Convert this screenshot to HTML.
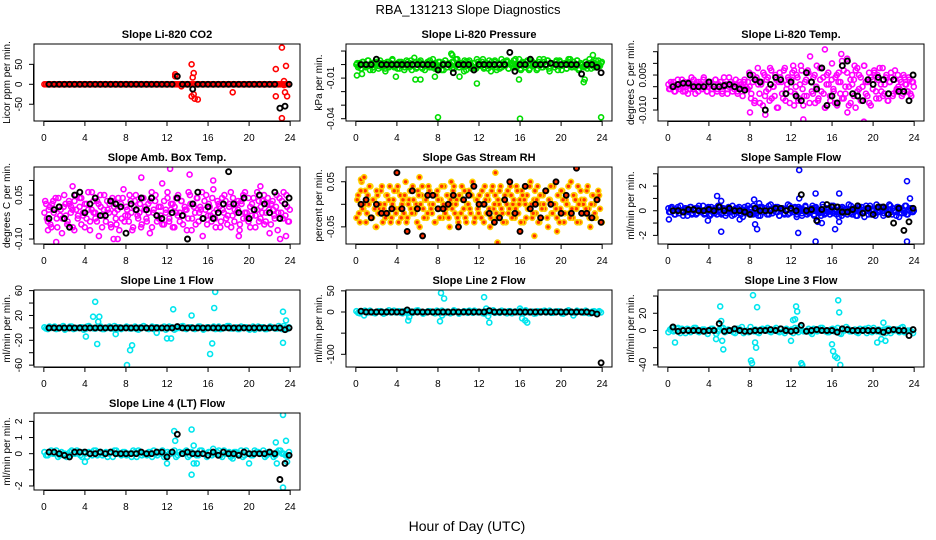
<!DOCTYPE html>
<html><head><meta charset="utf-8"><title>RBA_131213 Slope Diagnostics</title>
<style>
html,body{margin:0;padding:0;background:#fff;}
svg{display:block;font-family:"Liberation Sans",Arial,sans-serif;}
</style></head>
<body>
<svg id="chart" width="936" height="540" viewBox="0 0 936 540" xmlns="http://www.w3.org/2000/svg">
<defs id="defs"></defs>
<rect x="0" y="0" width="936" height="540" fill="#fff"/>
<text x="468" y="14" text-anchor="middle" font-size="13">RBA_131213  Slope Diagnostics</text>
<text x="467" y="531" text-anchor="middle" font-size="14">Hour of Day (UTC)</text>
</svg>
<script>
// ---- shared categories ----
const xTicks = [0,4,8,12,16,20,24];
const blackHours = [0.5,1,1.5,2,2.5,3,3.5,4,4.5,5,5.5,6,6.5,7,7.5,8,8.5,9,9.5,10,10.5,11,11.5,12,12.5,13,13.5,14,14.5,15,15.5,16,16.5,17,17.5,18,18.5,19,19.5,20,20.5,21,21.5,22,22.5,23,23.5,23.9];

// ---- CO2 (ppm/min) ----
const co2Base = [0,0,0,0,0,0,0,0,0,0,0,0,0,0,0,0,0,0,0,0,0,0,0,0,0,0,0,0,0,0,0,0,0,0,0,0,0,0,0,0,0,0,0,0,0,0,0,0,0,0,0,0,0,0,0,0,0,0,0,0,0,0,0,0,0,0,0,0,0,0,0,0];
const co2Base2 = [0,0,0,0,0,0,0,0,0,0,0,0,0,0,0,0,0,0,0,0,0,0,0,0,0,0,0,0,0,0,0,0,0,0,0,0,0,0,0,0,0,0,0,0,0,0,0,0,0,0,0,0,0,0,0,0,0,0,0,0,0,0,0,0,0,0,0,0,0,0,0,0];
const co2OutHours = [12.8,12.8,14.4,14.5,14.6,14.6,14.4,14.7,15,13.4,18.4,22.6,22.6,23.2,23.2,23.4,23.5,23.6,23.7,23.4];
const co2OutVals = [25,20,50,17,28,-25,-30,-36,-38,-5,-20,38,-30,92,-85,8,-20,46,-30,-2];
const co2Black = [0,0,0,0,0,0,0,0,0,0,0,0,0,0,0,0,0,0,0,0,0,0,0,0,0,20,0,0,-12,0,0,0,0,0,0,0,0,0,0,0,0,0,0,0,0,-60,-55,0];

// ---- Pressure (0.001 kPa/min) ----
const presBase = [0,-2,1,-3,2,0,-1,3,-4,1,-2,0,2,-3,1,-1,0,-5,2,-2,1,3,-1,0,-3,2,-1,1,-4,0,2,-2,3,-1,0,-3,1,2,-2,0,-4,1,-1,3,-2,0,1,-3,2,-1,0,-4,3,-2,1,0,-3,2,-1,4,-2,0,1,-5,2,-1,3,0,-2,1,-3,2,0,-1,4,-2,1,-3,0,2,-1,3,-4,1,0,-2,2,-1,3,-3,0,1,-2,4,-1,0,-3,2,1,-2,3,-4,0,2,-1,1,-3,4,0,-2,2,-1,3,-5,1,0,-2,3,-1,2,-4,0,1,-3,4,-1,0,2,-2,3,-4,1,0,-1,2,-3,1,0,2,-2,3,-1,0,1];
const presBase2 = [1,-1,-3,2,0,-2,3,-1,1,-4,2,0,-1,3,-2,1,-3,0,2,-1,4,-2,0,1,-3,2,0,-2,3,-1,1,-4,0,2,-2,1,3,-3,0,-1,2,-2,1,4,-3,0,-1,2,-4,1,3,-2,0,-1,2,-3,4,0,-2,1,-1,3,-4,2,0,-3,1,-2,4,-1,0,2,-3,1,-1,3,-5,0,2,-2,1,-3,4,-1,0,2,-3,1,-1,3,-2,0,4,-4,1,-2,2,0,-3,3,-1,1,-4,2,0,-2,4,-1,3,-3,1,0,-2,2,-4,3,-1,0,1,-3,2,4,-2,0,-1,3,-3,1,0,-2,2,-1,4,-3,0,1,-2,3,-1,2];
const presOutHours = [8,16,23.9,9.3,9.4,11.8,15.9,5.8,6.3,22.2,22.3,23.1,0.1,0.6,3.9,5.7,7.7,10.1];
const presOutVals = [-39,-40,-39,8,7,-14,-11,-11,-11,-13,-11,7,-8,-7,-9,5,-9,-9];
const presBlack = [0,0,0,4,0,0,0,0,0,0,0,0,0,0,0,-4,0,0,-6,0,0,0,-4,0,0,0,0,0,0,9,-5,0,0,4,0,0,0,1,0,0,0,0,0,-7,0,0,-2,-6];

// ---- Li-820 Temp (0.001 C/min) ----
const tempBase = [1,-1,0,2,-2,1,0,-1,3,0,-2,1,2,-1,0,3,-3,1,2,0,-1,4,1,-2,0,2,-3,1,3,-1,0,2,-2,4,1,-3,0,2,1,-1,3,-2,0,1,-4,2,0,-1,6,-5,2,-7,3,8,-3,1,-8,5,-2,4,-6,7,0,-4,3,-9,6,2,-5,8,-1,4,-7,3,9,-3,5,-6,1,7,-8,2,-4,6,13,-2,4,-7,9,-5,3,8,-3,-9,5,1,-6,10,-2,4,-8,6,2,-5,7,-3,12,0,-7,5,3,-9,8,-1,4,-6,9,2,-4,6,-8,3,7,-2,5,-5,1,8,-3,4,-6,2,6,-4,3,-2,5,-1,2,-3,4,1,-2,3,-4,2];
const tempBase2 = [-1,2,1,-2,0,3,-1,1,-2,2,0,-3,1,4,-1,0,2,-2,1,-1,3,0,-2,2,1,-1,0,3,-2,1,2,-3,0,1,-1,4,2,-2,0,1,-3,2,1,0,3,-1,2,0,-3,5,-6,4,1,-7,2,6,-4,3,-1,8,-5,0,5,-9,2,4,-3,7,-6,1,3,-2,6,-8,0,4,-5,9,-1,-4,3,7,-7,2,-3,5,0,-6,8,-2,4,-9,1,6,-4,3,-1,-7,5,2,-3,11,-5,0,6,-8,3,1,-4,7,-2,5,-6,0,9,-3,2,-7,4,-1,6,-5,3,8,-2,-4,1,5,-6,2,4,-3,7,-1,0,3,-4,5,1,-2,4,-3,2,0];
const tempOutHours = [15.3,16.9,10.4,19.1,8.0,9.5,13.2,17.5,12.3,18.2];
const tempOutVals = [16,14,-16,-15,-11,-12,-14,-11,7,9];
const tempBlack = [0,1,1.5,1.5,0,0,0,2,0,0,0.5,1,0,-1,-1.5,5,3,2,-10,1,4,3,-3,2,-4,-6,6,2,-1,8,-8,-4,-7,9,11,-3,-4,-6,3,1,4,3,-3,3,-2,-2,-6,5];

// ---- Amb Box Temp (0.01 C/min) ----
const ambBase = [-1,2,-4,1,-6,3,0,-3,4,-2,-8,1,2,-5,3,-1,0,-7,5,-3,1,4,-2,-6,2,0,-4,6,-1,-3,3,-9,1,-2,5,-4,0,2,-6,3,-1,-5,4,1,-3,7,-2,0,-4,3,-7,1,5,-2,-1,-6,4,0,-3,2,-8,6,-1,3,-4,1,-2,9,-5,0,4,-3,2,-6,1,-1,5,-4,3,-2,0,-7,6,2,-3,1,-5,4,-1,0,-9,3,5,-2,1,-4,7,-3,0,2,-6,4,-1,3,-5,1,6,-2,-4,2,0,-7,3,5,-1,-3,4,-6,2,0,-2,6,-4,1,3,-5,-1,4,-8,2,0,-3,5,-1,-10,3,6,-2,1,-4];
const ambBase2 = [3,-3,0,-5,2,-1,4,-6,1,0,-3,5,-2,-4,2,1,-6,3,0,-2,4,-5,-1,2,-3,6,-7,0,3,-1,-4,2,5,-6,0,-2,3,-1,-5,4,1,-3,0,-7,2,4,-4,1,-2,5,-1,-6,3,0,-3,2,-5,4,1,-4,-1,3,-6,0,5,-2,-3,1,-5,3,-1,6,-4,0,2,-6,4,-2,-1,3,-5,1,0,-3,5,-7,2,-1,4,-4,1,6,-3,0,-5,2,-2,4,-1,-6,3,1,-4,0,5,-3,-2,2,-6,4,0,-1,3,-5,2,-3,6,-1,-4,1,-2,4,-6,0,3,-3,-1,5,-4,2,0,-5,3,-2,1,-7,4,-1,-3,2,5,-4,0];
const ambOutHours = [1.2,2.8,9.5,12.3,14.2,15.5,19,23.6,23.8,0.4,6.8,7.2,16.5,21.1];
const ambOutVals = [-11,8,11,14,12,-13,-9,-9,-13,-7,-10,-10,10,8];
const ambBlack = [-3,0,1,-3,-6,5,6,-1,2,4,-2,-2,3,2,1,-8,2,0,4,0,4,-2,-3,-13,-1,4,-2,-10,2,6,-3,1,-3,-1,2,13,2,-1,4,-3,0,5,2,-1,6,-3,2,4];

// ---- Gas Stream RH (0.01 %/min) ----
const rhBase = [-3,2,-4,5,-1,3,-2,0,4,-3,1,-5,2,-1,3,-4,0,2,-2,4,-3,1,-1,3,-4,2,0,-2,5,-3,1,-1,4,-2,0,3,-5,2,-1,1,-3,4,0,-2,2,-4,3,-1,1,-3,4,-1,2,-5,0,3,-2,1,-4,2,4,-1,-3,0,3,-2,5,-4,1,-1,2,-3,0,4,-2,1,-5,3,-1,2,-3,0,4,-2,1,-4,3,-1,2,0,-3,4,-2,1,3,-4,0,2,-1,5,-3,1,-2,4,-4,0,2,-1,3,-5,1,-2,4,0,-3,2,-1,3,-4,1,0,-2,5,-3,2,-1,4,-4,1,0,-2,3,-1,-5,2,0,-3,1,2,-4];
const rhBase2 = [1,-2,3,-1,0,-4,2,4,-3,1,-1,3,-2,0,4,-1,-3,2,1,-4,0,3,-2,4,-1,-3,1,2,-4,0,3,-2,1,-1,-4,2,0,4,-3,1,-2,3,-1,0,-4,2,1,-3,4,0,-2,2,-3,1,-1,4,0,-3,2,-2,1,3,-4,0,-1,2,4,-3,1,-2,0,3,-4,1,2,-1,-3,4,0,-2,1,3,-1,-4,2,0,-2,4,-3,1,-1,3,0,-4,2,1,-3,-1,4,0,-2,3,1,-4,2,-1,0,3,-3,1,4,-2,0,-1,2,-4,3,1,-2,0,4,-3,-1,2,1,-4,0,3,-2,1,-1,4,-3,0,2,-2,1,3,-1,-4];
const rhOutHours = [0.5,0.8,6.2,13.6,13.8,17.4,19.6,23.2,2.0,9.3];
const rhOutVals = [5.5,6,6,7,-8.5,-7,-6,-3,-5,5];
const rhBlack = [0,1,-3,0,-2,-2,-1,7,-1,-6,3,-1,-7,2,2,-1,-1,0,2,-5,1,2,4,0,0,-2,-4,-3,1,5,-2,-6,4,-1,0,-3,3,0,5,-2,2,-2,8,-2,-2,-3,1,-4];

// ---- Sample Flow (0.1 mL/min/min) ----
const flowBase = [2,-1,3,0,-3,1,-2,4,0,-1,2,-4,1,3,-2,0,-3,2,1,-1,4,-2,0,3,-4,1,-1,2,-3,0,3,-2,1,-4,2,0,-1,4,-3,1,2,-2,0,-5,3,1,-1,2,-3,4,0,-2,1,-4,3,-1,2,0,-3,5,-2,1,-1,3,-4,0,2,-2,1,-3,4,0,-1,2,-5,3,1,-2,0,4,-3,1,-1,2,-4,3,0,-2,1,5,-3,2,-1,0,4,-2,1,-3,3,0,-4,2,-1,1,5,-2,-3,0,2,-4,3,1,-1,-5,4,0,2,-3,1,-2,5,-1,0,3,-4,2,-2,1,4,-3,0,-1,3,-5,2,1,-2,4,-3,0,2,-1];
const flowBase2 = [-1,2,0,-3,1,3,-2,0,-4,2,1,-1,3,-3,0,2,-2,4,-1,0,-3,1,2,-4,3,0,-2,1,4,-1,-3,2,0,-2,3,1,-4,0,2,-1,3,-3,1,0,-2,4,-1,2,-3,0,1,-4,3,2,-1,0,-3,4,1,-2,0,3,-1,-4,2,1,-3,0,5,-2,1,-1,3,-3,0,2,-4,1,3,-1,-2,0,4,-3,2,1,-1,-4,3,0,-2,2,-3,1,4,-1,0,-5,2,3,-2,1,-3,0,4,-1,2,-4,1,0,3,-2,-1,2,-3,4,0,1,-4,2,-1,3,0,-2,1,-3,5,-1,2,0,-4,3,1,-2,0,4,-3,1,2,-1,0];
const flowOutHours = [0.1,3.9,4.8,5.2,5.2,7,8.4,8.5,8.7,12.7,12.8,12.8,14.4,14.4,14.6,15,16.3,16.7,16.7,23.3,23.3,23.6,4.2,8.9];
const flowOutVals = [-7,-8,12,-17,8,-7,9,-11,-15,-18,33,10,14,-25,-9,-10,-15,14,-9,24,-25,10,-3,6];
const flowBlack = [0,0,-1,1,1,0,0,1,0,3,0,2,0,0,-1,-3,2,0,0,0,2,2,0,2,0,13,0,1,-8,1,5,3,3,-1,-1,1,4,-2,2,-3,3,3,-3,-10,2,-16,-9,2];

// ---- Line 1 Flow (mL/min/min) ----
const line1Base = [1,-2,0,2,-1,1,-3,0,2,-1,0,1,-2,3,0,-1,1,-2,0,2,-1,-3,1,0,2,-1,0,-2,1,3,-1,0,-2,1,0,2,-1,1,-3,0,2,-1,0,1,-2,2,0,-1,1,0,-2,2,-1,0,3,-1,1,-2,0,1,-3,2,0,-1,1,-2,2,0,-1,1,3,-2];
const line1Base2 = [-1,2,1,-2,0,3,-1,2,-2,0,1,-3,2,0,-1,1,2,-2,0,-1,3,1,-2,0,1,-1,2,-3,0,1,-2,2,1,-1,0,-3,2,1,-1,0,3,-2,1,-1,0,2,-3,1,0,2,-1,-2,1,3,-1,0,-2,2,1,-1,0,-3,2,1,-2,0,1,-1,3,-2,0,1];
const line1OutHours = [5,5.2,5.4,4.8,5.3,4.1,8.1,8.4,8.6,12,12.4,12.6,14.4,16.2,16.4,16.7,16.6,23.3,23.3,23.6,7,11];
const line1OutVals = [42,-26,18,18,10,-14,-60,-36,-28,-17,-17,30,20,-42,-25,58,32,26,-24,12,-10,-8];
const line1Black = [0,0,0,0,0,0,0,0,0,0,0,0,0,0,0,0,0,0,0,0,0,0,0,0,0,2,0,0,0,0,0,0,0,0,0,0,0,0,0,0,0,0,0,0,0,0,-3,0];

// ---- Line 2 Flow ----
const line2Base = [2,-3,1,0,3,-2,0,2,-4,1,-1,3,0,-2,2,-3,1,0,4,-1,-2,2,0,-3,1,3,-2,0,-1,2,-4,0,1,3,-2,1,0,-3,2,-1,4,0,-2,1,-3,2,0,-1,3,-2,1,0,-4,2,-1,3,0,-2,1,2,-3,0,4,-1,-2,1,0,3,-3,1,-1,2];
const line2Base2 = [-2,1,3,-1,0,-3,2,1,-2,4,0,-1,2,-3,1,0,-2,3,1,-4,0,2,-1,3,-2,0,1,-3,4,0,-1,2,-2,1,3,-1,0,-4,2,1,-2,0,3,-1,2,-3,1,0,-2,4,-1,1,-3,0,2,-1,3,-2,0,1,-4,2,1,-1,3,0,-2,1,-3,2,0,-1];
const line2OutHours = [5.1,5.2,8.2,8.3,8.6,8.4,12.5,12.7,12.9,13.0,16.0,16.2,16.5,16.7,0.8,21.2];
const line2OutVals = [-20,-12,-22,45,32,-8,35,8,-10,-25,8,-15,-20,-25,-8,-8];
const line2Black = [2,0,0,0,0,0,0,0,0,5,0,0,0,0,0,0,0,0,0,0,0,0,0,0,0,3,0,0,0,0,0,0,0,0,0,0,0,0,0,0,0,0,0,0,0,-2,-5,-120];

// ---- Line 3 Flow ----
const line3Base = [-2,3,0,-1,2,-3,1,0,3,-2,1,-1,0,2,-4,1,3,-1,0,-2,2,1,-3,0,4,-1,-2,1,0,3,-2,1,-1,2,-3,0,1,3,-2,0,-1,2,-4,1,0,3,-1,-2,2,0,-3,1,4,-1,0,-2,2,1,-3,0,3,-1,-2,1,2,-3,0,1,3,-2,0,-1];
const line3Base2 = [1,-1,2,-3,0,2,-2,3,-1,0,1,-4,2,0,-1,3,-2,1,0,-3,2,4,-1,-2,0,1,-3,2,1,-1,0,3,-2,-1,2,0,-3,1,4,-1,0,-2,2,-1,3,0,-2,1,-1,3,-4,0,2,-1,1,-3,0,2,3,-2,0,1,-1,-3,2,0,1,-2,4,-1,0,-3];
const line3OutHours = [0.7,4.7,5.1,5.2,5.3,5.4,8.1,8.2,8.3,8.5,8.6,8.7,12,12.2,12.4,12.6,12.5,13.0,13.1,16,16.1,16.3,16.5,16.6,16.7,16.8,20.4,20.8,21,21.2,1.0];
const line3OutVals = [-14,-10,28,11,-12,-22,-35,-38,41,-14,-20,27,-12,12,13,22,28,-38,-40,-16,-24,-30,-32,35,21,-40,-14,-10,9,-12,3];
const line3Black = [4,-1,0,0,0,0,-1,0,0,8,-1,0,2,0,-1,-1,0,0,0,1,0,2,0,-1,0,6,-1,0,1,0,0,0,-2,2,1,0,0,0,0,0,0,-2,0,1,0,0,-6,1];

// ---- Line 4 (LT) Flow ----
const line4Base = [0.1,-0.1,0.2,0,-0.2,0.1,0,-0.1,0.2,0,0.1,-0.2,0,0.1,-0.1,0.2,0,-0.1,0.1,0,-0.2,0.2,0,0.1,-0.1,0,0.2,-0.2,0.1,0,-0.1,0.1,0.2,-0.1,0,-0.2,0.1,0,0.2,-0.1,0,0.1,-0.2,0.1,0,-0.1,0.2,0,0.1,-0.1,0,0.2,-0.2,0,0.1,-0.1,0.1,0,-0.2,0.2,0,-0.1,0.1,0,0.2,-0.1,0,-0.2,0.1,0.2,0,-0.1];
const line4Base2 = [-0.1,0.1,0,0.2,-0.1,0,-0.2,0.1,0,0.2,-0.1,0.1,-0.2,0,0.2,-0.1,0.1,0,-0.2,0.1,0.2,0,-0.1,0.1,0,-0.2,0.1,0.2,-0.1,0,0.1,-0.2,0,0.1,0.2,-0.1,0,0.1,-0.2,0.1,0,0.2,-0.1,0,-0.1,0.2,0,-0.2,0.1,0,0.1,-0.1,0.2,0,-0.2,0.1,0,0.2,-0.1,0,-0.1,0.2,0.1,0,-0.2,0.1,0,-0.1,0.2,0,-0.1,0.1];
const line4OutHours = [4,12,12.7,12.8,14.4,14.4,14.6,14.6,14.9,20,22.6,22.7,23.3,23.3,23.6,23.7,16.5,18.4];
const line4OutVals = [-0.5,-0.6,1.4,0.8,1.5,-1.3,0.5,-0.6,-0.6,-0.6,0.7,-0.6,2.4,-2.1,0.8,-0.5,0.3,-0.3];
const line4Black = [0.1,0.1,0,-0.1,-0.2,0.1,0.1,0.1,0,0,0.1,0,0.1,0,0,0,0,0,0.1,0,0,0.1,0.1,-0.2,0.1,1.2,0,0.1,0,0,0,-0.1,0.1,-0.1,0.1,0,0,-0.1,0.1,0,0,0,0,0.1,0,-1.6,-0.6,-0.1];

// ---- y-axis tick values / labels ----
const co2Ticks = [-50,0,50], co2Labels = ["-50","0","50"];
const presTicks = [-40,-30,-20,-10,0,10], presLabels = ["-0.04","","","-0.01","",""];
const tempTicks = [-10,-5,0,5,10,15], tempLabels = ["-0.010","","","0.005","",""];
const ambTicks = [-10,-5,0,5,10], ambLabels = ["-0.10","","","0.05",""];
const rhTicks = [-5,0,5], rhLabels = ["-0.05","","0.05"];
const flowTicks = [-20,-10,0,10,20,30], flowLabels = ["-2","","0","","2",""];
const line1Ticks = [-60,-40,-20,0,20,40,60], line1Labels = ["-60","","-20","","20","","60"];
const line2Ticks = [-100,-50,0,50], line2Labels = ["-100","","0","50"];
const line3Ticks = [-40,-20,0,20,40], line3Labels = ["-40","","0","20",""];
const line4Ticks = [-2,-1,0,1,2], line4Labels = ["-2","","0","1","2"];

// ---- layout (not data) ----
const colLeft = [34,346,658], boxW = 266;
const rowTop = [44,167,290,413], boxH = 77;
const NS = "http://www.w3.org/2000/svg";
const svg = document.getElementById('chart');
const defs = document.getElementById('defs');

function mk(tag, attrs, parent){
  const e = document.createElementNS(NS, tag);
  for (const k in attrs) e.setAttribute(k, attrs[k]);
  (parent||svg).appendChild(e);
  return e;
}

function panel(cfg){
  const L = colLeft[cfg.col], T = rowTop[cfg.row], R = L + boxW, B = T + boxH;
  const g = mk('g', {});
  
  
  const cp = mk('clipPath', {id:'clip-' + cfg.name}, defs);
  mk('rect', {x:L, y:T, width:boxW, height:boxH}, cp);
  const xs = h => L + (h + 0.96) / 25.92 * boxW;
  const ys = v => B - (v - cfg.lo) / (cfg.hi - cfg.lo) * boxH;
  const t = mk('text', {x:(L+R)/2, y:T-6, 'text-anchor':'middle', 'font-size':11, 'font-weight':'bold'}, g);
  t.textContent = cfg.title;
  
  
  const yl = mk('text', {x:0, y:0, 'text-anchor':'middle', 'font-size':10, transform:`translate(${L-24},${(T+B)/2}) rotate(-90)`}, g);
  yl.textContent = cfg.ylab;
  
  
  const pts = mk('g', {'clip-path':'url(#clip-' + cfg.name + ')'}, g);
  
  
  const dot = (h, v, color, sw, nm) => {
    const c = mk('circle', {cx:xs(h).toFixed(1), cy:ys(v).toFixed(1), r:2.5, fill:cfg.fill||'none', stroke:color, 'stroke-width':sw}, pts);
    
    
  };
  cfg.base.forEach((v, i) => dot(i * 24 / cfg.base.length + 0.05, v * cfg.unit, cfg.color, 1.6, cfg.name + '-point'));
  cfg.base2.forEach((v, i) => dot((i + 0.5) * 24 / cfg.base2.length + 0.05, v * cfg.unit, cfg.color, 1.6, cfg.name + '-point'));
  cfg.outH.forEach((h, i) => dot(h, cfg.outV[i] * cfg.unit, cfg.color, 1.6, cfg.name + '-outlier'));
  cfg.black.forEach((v, i) => dot(blackHours[i], v * cfg.unit, '#000', 1.9, cfg.name + '-mean-point'));
  const bx = mk('rect', {x:L, y:T, width:boxW, height:boxH, fill:'none', stroke:'#000', 'stroke-width':1}, g);
  
  
  const xa = mk('g', {}, g);
  
  
  mk('line', {x1:xs(0), x2:xs(24), y1:B+0.5, y2:B+0.5, stroke:'#000'}, xa);
  xTicks.forEach(h => {
    mk('line', {x1:xs(h), x2:xs(h), y1:B, y2:B+5, stroke:'#000'}, xa);
    const tl = mk('text', {x:xs(h), y:B+20, 'text-anchor':'middle', 'font-size':10}, xa);
    tl.textContent = h;
    
    
  });
  const ya = mk('g', {}, g);
  
  
  const tv = cfg.ticks.map(v => v * cfg.unit);
  mk('line', {x1:L-0.5, x2:L-0.5, y1:ys(tv[0]), y2:ys(tv[tv.length-1]), stroke:'#000'}, ya);
  tv.forEach((v, i) => {
    mk('line', {x1:L-5, x2:L, y1:ys(v), y2:ys(v), stroke:'#000'}, ya);
    if (cfg.labels[i]) {
      const tl = mk('text', {x:0, y:0, 'text-anchor':'middle', 'font-size':10, transform:`translate(${L-12},${ys(v)}) rotate(-90)`}, ya);
      tl.textContent = cfg.labels[i];
      
      
    }
  });
}

panel({name:'co2', title:'Slope Li-820 CO2', ylab:'Licor ppm per min.', col:0, row:0, lo:-92, hi:101, unit:1, color:'#ff0000', base:co2Base, base2:co2Base2, outH:co2OutHours, outV:co2OutVals, black:co2Black, ticks:co2Ticks, labels:co2Labels});
panel({name:'pressure', title:'Slope Li-820 Pressure', ylab:'kPa per min.', col:1, row:0, lo:-0.0417, hi:0.0152, unit:0.001, color:'#00dd00', base:presBase, base2:presBase2, outH:presOutHours, outV:presOutVals, black:presBlack, ticks:presTicks, labels:presLabels});
panel({name:'li820-temp', title:'Slope Li-820 Temp.', ylab:'degrees C per min.', col:2, row:0, lo:-0.0147, hi:0.0183, unit:0.001, color:'#ff00ff', base:tempBase, base2:tempBase2, outH:tempOutHours, outV:tempOutVals, black:tempBlack, ticks:tempTicks, labels:tempLabels});
panel({name:'amb-box-temp', title:'Slope Amb. Box Temp.', ylab:'degrees C per min.', col:0, row:1, lo:-0.117, hi:0.146, unit:0.01, color:'#ff00ff', base:ambBase, base2:ambBase2, outH:ambOutHours, outV:ambOutVals, black:ambBlack, ticks:ambTicks, labels:ambLabels});
panel({name:'gas-stream-rh', title:'Slope Gas Stream RH', ylab:'percent per min.', col:1, row:1, lo:-0.088, hi:0.0827, unit:0.01, color:'#ffd000', fill:'#ff3000', base:rhBase, base2:rhBase2, outH:rhOutHours, outV:rhOutVals, black:rhBlack, ticks:rhTicks, labels:rhLabels});
panel({name:'sample-flow', title:'Slope Sample Flow', ylab:'ml/min per min.', col:2, row:1, lo:-2.7, hi:3.55, unit:0.1, color:'#0000ff', base:flowBase, base2:flowBase2, outH:flowOutHours, outV:flowOutVals, black:flowBlack, ticks:flowTicks, labels:flowLabels});
panel({name:'line1-flow', title:'Slope Line 1 Flow', ylab:'ml/min per min.', col:0, row:2, lo:-63, hi:61, unit:1, color:'#00e5ee', base:line1Base, base2:line1Base2, outH:line1OutHours, outV:line1OutVals, black:line1Black, ticks:line1Ticks, labels:line1Labels});
panel({name:'line2-flow', title:'Slope Line 2 Flow', ylab:'ml/min per min.', col:1, row:2, lo:-130, hi:52, unit:1, color:'#00e5ee', base:line2Base, base2:line2Base2, outH:line2OutHours, outV:line2OutVals, black:line2Black, ticks:line2Ticks, labels:line2Labels});
panel({name:'line3-flow', title:'Slope Line 3 Flow', ylab:'ml/min per min.', col:2, row:2, lo:-42.4, hi:47, unit:1, color:'#00e5ee', base:line3Base, base2:line3Base2, outH:line3OutHours, outV:line3OutVals, black:line3Black, ticks:line3Ticks, labels:line3Labels});
panel({name:'line4-flow', title:'Slope Line 4 (LT) Flow', ylab:'ml/min per min.', col:0, row:3, lo:-2.25, hi:2.52, unit:1, color:'#00e5ee', base:line4Base, base2:line4Base2, outH:line4OutHours, outV:line4OutVals, black:line4Black, ticks:line4Ticks, labels:line4Labels});
</script>
</body></html>
